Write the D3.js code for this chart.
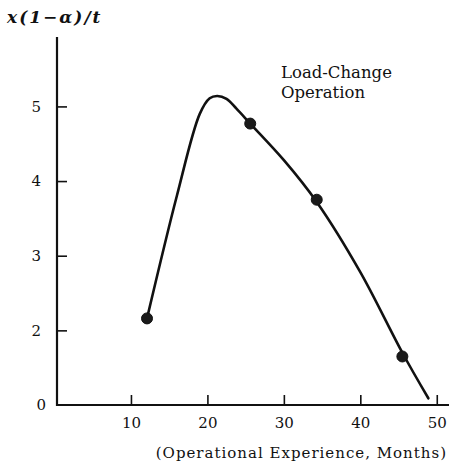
<!DOCTYPE html>
<html>
<head>
<meta charset="utf-8">
<script src="https://cdn.jsdelivr.net/npm/d3@7"></script>
<style>
  body { margin: 0; background: #fff; }
</style>
</head>
<body>
<div id="chart"></div>
<script>
// Values
var measuredMonths = [12.1, 25.6, 34.3, 45.5];
var measuredValues = [2.16, 4.77, 3.75, 1.65];

var curveMonths = [12.1, 16.0, 19.0, 20.3, 21.3, 22.5, 23.8, 25.6, 30.0, 34.3, 40.0, 45.5, 48.9];
var curveValues = [2.16, 3.80, 4.90, 5.11, 5.14, 5.10, 4.97, 4.77, 4.28, 3.72, 2.78, 1.70, 1.09];

var xTicks = [10, 20, 30, 40, 50];
var yTicks = [1, 2, 3, 4, 5];
var yTickLabels = ["0", "2", "3", "4", "5"];

var svgWidth = 449;
var svgHeight = 466;
var serif = "DejaVu Serif, serif";

var svg = d3.select("#chart")
  .append("svg")
  .attr("width", svgWidth)
  .attr("height", svgHeight);

// scales (the bottom of the y axis is labelled 0 in the original)
var xScale = d3.scaleLinear()
  .domain([0, 51.6])
  .range([54.5, 449]);

var yScale = d3.scaleLinear()
  .domain([1, 5.93])
  .range([405, 37]);

// axis lines
svg.append("line")
  .attr("x1", 57).attr("x2", 57)
  .attr("y1", yScale(5.93)).attr("y2", yScale(1) + 1)
  .attr("stroke", "#111").attr("stroke-width", 2.2);

svg.append("line")
  .attr("x1", 56).attr("x2", 449)
  .attr("y1", yScale(1)).attr("y2", yScale(1))
  .attr("stroke", "#111").attr("stroke-width", 2.2);

// x ticks point up, y ticks point right
var xAxis = d3.axisBottom(xScale)
  .tickValues(xTicks)
  .tickSizeInner(-10)
  .tickSizeOuter(0)
  .tickPadding(12)
  .tickFormat(d3.format("d"));

var xg = svg.append("g")
  .attr("transform", `translate(0, ${yScale(1)})`)
  .call(xAxis);
xg.select(".domain").remove();
xg.selectAll(".tick line").attr("stroke", "#111").attr("stroke-width", 1.6);
xg.selectAll(".tick text")
  .attr("font-size", 15)
  .attr("font-family", serif)
  .attr("fill", "#111");

var yAxis = d3.axisLeft(yScale)
  .tickValues(yTicks)
  .tickSizeInner(-10)
  .tickSizeOuter(0)
  .tickPadding(16)
  .tickFormat((d, i) => yTickLabels[i]);

var yg = svg.append("g")
  .attr("transform", "translate(57, 0)")
  .call(yAxis);
yg.select(".domain").remove();
yg.selectAll(".tick line")
  .attr("stroke", "#111").attr("stroke-width", 1.6)
  .attr("opacity", d => d === 1 ? 0 : 1);
yg.selectAll(".tick text")
  .attr("font-size", 15)
  .attr("font-family", serif)
  .attr("fill", "#111")
  .attr("x", d => d === 1 ? -11 : -16);

// fitted curve
var line = d3.line()
  .x((d, i) => xScale(curveMonths[i]))
  .y((d, i) => yScale(curveValues[i]))
  .curve(d3.curveCatmullRom.alpha(0.5));

svg.append("path")
  .datum(curveMonths)
  .attr("d", line)
  .attr("fill", "none")
  .attr("stroke", "#111")
  .attr("stroke-width", 2.6)
  .attr("stroke-linecap", "round");

// measured points
svg.selectAll("circle.pt")
  .data(measuredMonths)
  .enter()
  .append("circle")
  .attr("class", "pt")
  .attr("cx", d => xScale(d))
  .attr("cy", (d, i) => yScale(measuredValues[i]))
  .attr("r", 5.5)
  .attr("fill", "#1a1a1a")
  .attr("stroke", "#111")
  .attr("stroke-width", 1);

// labels
svg.append("text")
  .attr("x", 7)
  .attr("y", 23)
  .attr("font-size", 17)
  .attr("font-style", "italic")
  .attr("font-family", serif)
  .attr("font-weight", "bold")
  .attr("letter-spacing", 2)
  .attr("fill", "#111")
  .text("x(1−α)/t");

svg.append("text")
  .attr("x", 281)
  .attr("y", 78)
  .attr("font-size", 16.5)
  .attr("font-family", serif)
  .attr("fill", "#111")
  .text("Load-Change");

svg.append("text")
  .attr("x", 281)
  .attr("y", 98)
  .attr("font-size", 16.5)
  .attr("font-family", serif)
  .attr("fill", "#111")
  .text("Operation");

svg.append("text")
  .attr("x", 447)
  .attr("y", 458)
  .attr("text-anchor", "end")
  .attr("font-size", 15)
  .attr("font-family", serif)
  .attr("letter-spacing", 1)
  .attr("fill", "#111")
  .text("(Operational Experience, Months)");
</script>
</body>
</html>
